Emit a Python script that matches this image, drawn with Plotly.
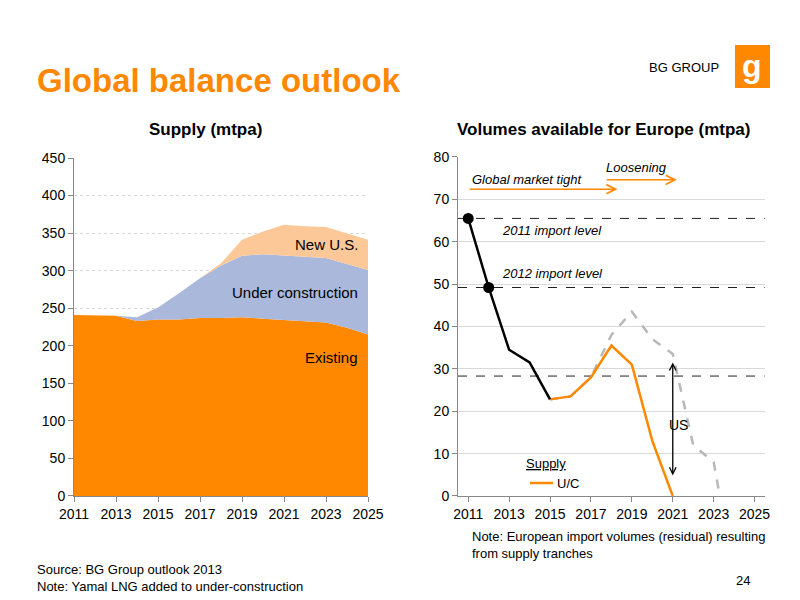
import plotly.graph_objects as go

years = list(range(2011, 2026))
existing = [241, 240, 240, 233, 235, 235, 237, 237, 238, 236, 234, 232, 231, 224, 215]
under_construction_top = [241, 240, 240, 238, 251, 270, 290, 307, 320, 322, 320, 318, 317, 309, 301]
new_us_top = [241, 240, 240, 238, 251, 270, 290, 310, 341, 352, 361, 359, 358, 350, 341]

hist_years = [2011, 2012, 2013, 2014, 2015]
hist_vals = [65.5, 49.2, 34.5, 31.5, 22.8]
uc_years = [2015, 2016, 2017, 2018, 2019, 2020, 2021]
uc_vals = [22.8, 23.5, 28, 35.5, 31, 13, 0]
us_years = [2015, 2016, 2017, 2018, 2019, 2020, 2021, 2022, 2023, 2023.3]
us_vals = [22.8, 23.5, 28, 38, 43.5, 37, 33.5, 12, 8, 0]
import_levels = [65.5, 49.2, 28.3]

ORANGE = "#FF8800"
FONT = "Liberation Sans"


def px(x, y):
    # page pixel (page has an 8px body margin) -> paper coords
    return (x - 8) / 800, 1 - (y - 8) / 600


fig = go.Figure()
fig.add_trace(go.Scatter(x=years, y=existing, fill="tozeroy", mode="lines",
                         line=dict(width=0), fillcolor=ORANGE, xaxis="x", yaxis="y"))
fig.add_trace(go.Scatter(x=years, y=under_construction_top, fill="tonexty", mode="lines",
                         line=dict(width=0), fillcolor="#A9B8DB", xaxis="x", yaxis="y"))
fig.add_trace(go.Scatter(x=years, y=new_us_top, fill="tonexty", mode="lines",
                         line=dict(width=0), fillcolor="#FCC898", xaxis="x", yaxis="y"))

for lvl in import_levels:
    fig.add_trace(go.Scatter(x=[2010.5, 2025.5], y=[lvl, lvl], mode="lines",
                             line=dict(color="#222", width=1, dash="dash"), xaxis="x2", yaxis="y2"))
fig.add_trace(go.Scatter(x=us_years, y=us_vals, mode="lines",
                         line=dict(color="#B8B8B8", width=2.5, dash="dash"), xaxis="x2", yaxis="y2"))
fig.add_trace(go.Scatter(x=uc_years, y=uc_vals, mode="lines",
                         line=dict(color=ORANGE, width=2.5), xaxis="x2", yaxis="y2"))
fig.add_trace(go.Scatter(x=hist_years, y=hist_vals, mode="lines",
                         line=dict(color="black", width=2.5), xaxis="x2", yaxis="y2"))
fig.add_trace(go.Scatter(x=hist_years[:2], y=hist_vals[:2], mode="markers",
                         marker=dict(color="black", size=11), xaxis="x2", yaxis="y2"))

axis_common = dict(showline=True, linecolor="#888", ticks="outside", tickcolor="#888", automargin=False,
                   tickfont=dict(size=14, color="black"), zeroline=False)
fig.update_layout(
    width=800, height=600, margin=dict(l=0, r=0, t=0, b=0, autoexpand=False),
    paper_bgcolor="white", plot_bgcolor="white", showlegend=False,
    font=dict(family=FONT, color="black"),
    xaxis=dict(domain=[0.0825, 0.45], range=[2011, 2025], tickvals=list(range(2011, 2026, 2)),
               showgrid=False, anchor="y", **axis_common),
    yaxis=dict(domain=[0.1867, 0.75], range=[0, 450], dtick=50, showgrid=True,
               gridcolor="#D9D9D9", griddash="dot", anchor="x", **axis_common),
    xaxis2=dict(domain=[0.5625, 0.946], range=[2010.5, 2025.5], tickvals=list(range(2011, 2026, 2)),
                showgrid=False, anchor="y2", **axis_common),
    yaxis2=dict(domain=[0.1867, 0.7517], range=[0, 80], dtick=10, showgrid=True,
                gridcolor="#D9D9D9", anchor="x2", **axis_common),
)

ann = [
    (35, 80, "<b>Global balance outlook</b>", 33, ORANGE, "left"),
    (205, 129, "<b>Supply (mtpa)</b>", 17, "black", "center"),
    (603, 129, "<b>Volumes available for Europe (mtpa)</b>", 17, "black", "center"),
    (360, 244, "New U.S.", 15, "black", "right"),
    (360, 292, "Under construction", 15, "black", "right"),
    (360, 357, "Existing", 15, "black", "right"),
    (470, 180, "<i>Global market tight</i>", 13, "black", "left"),
    (604, 168, "<i>Loosening</i>", 13, "black", "left"),
    (500, 231, "<i>2011 import level</i>", 13, "black", "left"),
    (500, 273, "<i>2012 import level</i>", 13, "black", "left"),
    (667, 425, "US", 14, "black", "left"),
    (524, 463, "<u>Supply</u>", 13, "black", "left"),
    (555, 483, "U/C", 13, "black", "left"),
    (470, 545, "Note: European import volumes (residual) resulting<br>from supply tranches", 13, "black", "left"),
    (35, 578, "Source: BG Group outlook 2013<br>Note: Yamal LNG added to under-construction", 13, "black", "left"),
    (752, 580, "24", 13, "black", "right"),
    (684, 68, "BG GROUP", 13, "black", "center"),
    (752, 66, "<b>g</b>", 32, "white", "center"),
]
for x, y, text, size, color, anchor in ann:
    ux, uy = px(x, y)
    fig.add_annotation(x=ux, y=uy, xref="paper", yref="paper", showarrow=False, text=text,
                       xanchor=anchor, yanchor="middle", align="left",
                       font=dict(size=size, color=color))

# orange arrows, US double arrow
arrows = [
    dict(x=2018.3, y=72.4, ax=2011.0, ay=72.4),
    dict(x=2021.2, y=74.6, ax=2017.7, ay=74.6),
]
for a in arrows:
    fig.add_annotation(xref="x2", yref="y2", axref="x2", ayref="y2", showarrow=True, arrowcolor=ORANGE,
                       arrowwidth=1.5, arrowhead=5, arrowsize=1.2, text="", **a)
fig.add_annotation(x=2021, y=31.5, ax=2021, ay=4.5, xref="x2", yref="y2", axref="x2", ayref="y2",
                   showarrow=True, arrowhead=5, arrowwidth=1.3, arrowcolor="black", arrowside="end+start", text="")
lx0, ly = px(530, 483)
lx1, _ = px(553, 483)
fig.add_shape(type="line", xref="paper", yref="paper", x0=lx0, x1=lx1, y0=ly, y1=ly,
              line=dict(color=ORANGE, width=2.5))
rx0, ry1 = px(735, 45)
rx1, ry0 = px(770, 88)
fig.add_shape(type="rect", xref="paper", yref="paper", x0=rx0, x1=rx1, y0=ry0, y1=ry1,
              fillcolor=ORANGE, line=dict(width=0), layer="below")

fig.write_html("out.html")
